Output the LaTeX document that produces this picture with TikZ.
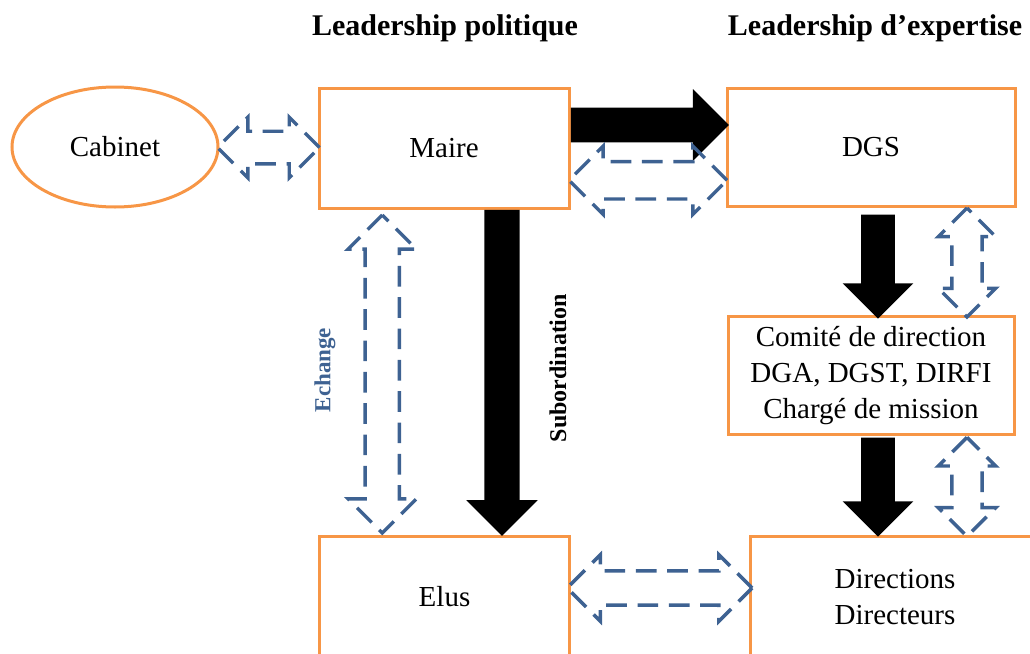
\documentclass[tikz,border=0pt]{standalone}
\usepackage{fontspec}
\setmainfont{Liberation Serif}
\usepackage{tikz}
\usetikzlibrary{shapes.geometric, shapes.arrows, calc, positioning}

\definecolor{boxorange}{RGB}{247,150,70}
\definecolor{arrowblue}{RGB}{62,98,146}

\newcommand{\bodyfont}{\fontsize{21.75}{27}\selectfont}
\newcommand{\headfont}{\fontsize{22.5}{27}\selectfont\bfseries}

\tikzset{
  box/.style={draw=boxorange, line width=2.25pt, rectangle, inner sep=0pt, align=center, font=\bodyfont},
  ovalbox/.style={draw=boxorange, line width=2.25pt, ellipse, inner sep=0pt, font=\bodyfont},
  % #1 = half shaft width, #2 = head extend
  blackarrow/.style 2 args={single arrow, fill=black, anchor=tail, inner xsep=0pt, inner ysep=#1, single arrow head extend=#2},
  dasharrow/.style 2 args={double arrow, draw=arrowblue, line width=2.6pt, dash pattern=on 15.5pt off 8pt, inner xsep=0pt, inner ysep=#1, double arrow head extend=#2}
}

\begin{document}
\begin{tikzpicture}[x=0.75pt, y=-0.75pt]
            \useasboundingbox (0,0) rectangle (1030,653);
            \clip (0,0) rectangle (1030,653);

            % titles
            \node[font=\headfont] (tpol) at (445,28) {Leadership politique};
            \node[font=\headfont] (texp) at (875,28) {Leadership d’expertise};

            % boxes
            \node[ovalbox, minimum width=154.5pt, minimum height=90pt] (cabinet) at (115,147) {Cabinet};
            \node[box, minimum width=187.5pt, minimum height=90pt] (maire) at (444,148) {Maire};
            \node[box, minimum width=216pt, minimum height=89pt] (dgs) at (871,147.5) {DGS};
            \node[box, minimum width=214.5pt, minimum height=89pt] (comite) at (871,375.5) {Comité de direction\\DGA, DGST, DIRFI\\Chargé de mission};
            \node[box, minimum width=187pt, minimum height=91.5pt] (elus) at (444.5,597) {Elus};
            \node[box, minimum width=217.5pt, minimum height=91.5pt] (dirs) at (895,597) {Directions\\Directeurs};

            % subordination arrows (black)
            \node[blackarrow={12.75pt}{13.9pt}, minimum height=118.5pt] (a1) at ($(maire.east)+(0,-23)$) {};
            \node[blackarrow={13.1pt}{13.5pt}, rotate=-90, minimum height=244.5pt] (a2) at ($(maire.south)+(58,0)$) {};
            \node[blackarrow={12.4pt}{13.9pt}, rotate=-90, minimum height=78pt] (a3) at ($(dgs.south)+(7,6)$) {};
            \node[blackarrow={12.4pt}{13.9pt}, rotate=-90, minimum height=74.25pt] (a4) at ($(comite.south)+(7,1)$) {};

            % exchange arrows (dashed blue)
            \node[dasharrow={10.9pt}{10.5pt}, minimum height=76.5pt] (d1) at ($(cabinet.east)!0.5!(maire.west)$) {};
            \node[dasharrow={12.75pt}{11.6pt}, minimum height=118.5pt] (d2) at ($(maire.east)!0.5!(dgs.west)+(0,32.5)$) {};
            \node[dasharrow={11.6pt}{12.75pt}, rotate=90, minimum height=238.5pt] (d3) at ($(maire.south)!0.5!(elus.north)+(-62,2)$) {};
            \node[dasharrow={10.1pt}{10.1pt}, rotate=90, minimum height=81.75pt] (d4) at ($(dgs.south)!0.5!(comite.north)+(96,1)$) {};
            \node[dasharrow={10.1pt}{10.1pt}, rotate=90, minimum height=74.25pt] (d5) at ($(comite.south)+(96,50.5)$) {};
            \node[dasharrow={11.6pt}{12pt}, minimum height=138.75pt] (d6) at ($(elus.east)!0.5!(dirs.west)+(0,-9)$) {};

            % labels
            \node[rotate=90, font=\fontsize{17.25}{20}\selectfont\bfseries, text=arrowblue] (lech) at (325,370) {Echange};
            \node[rotate=90, font=\fontsize{18}{20}\selectfont\bfseries] (lsub) at (558,368) {Subordination};
        \end{tikzpicture}
\end{document}
